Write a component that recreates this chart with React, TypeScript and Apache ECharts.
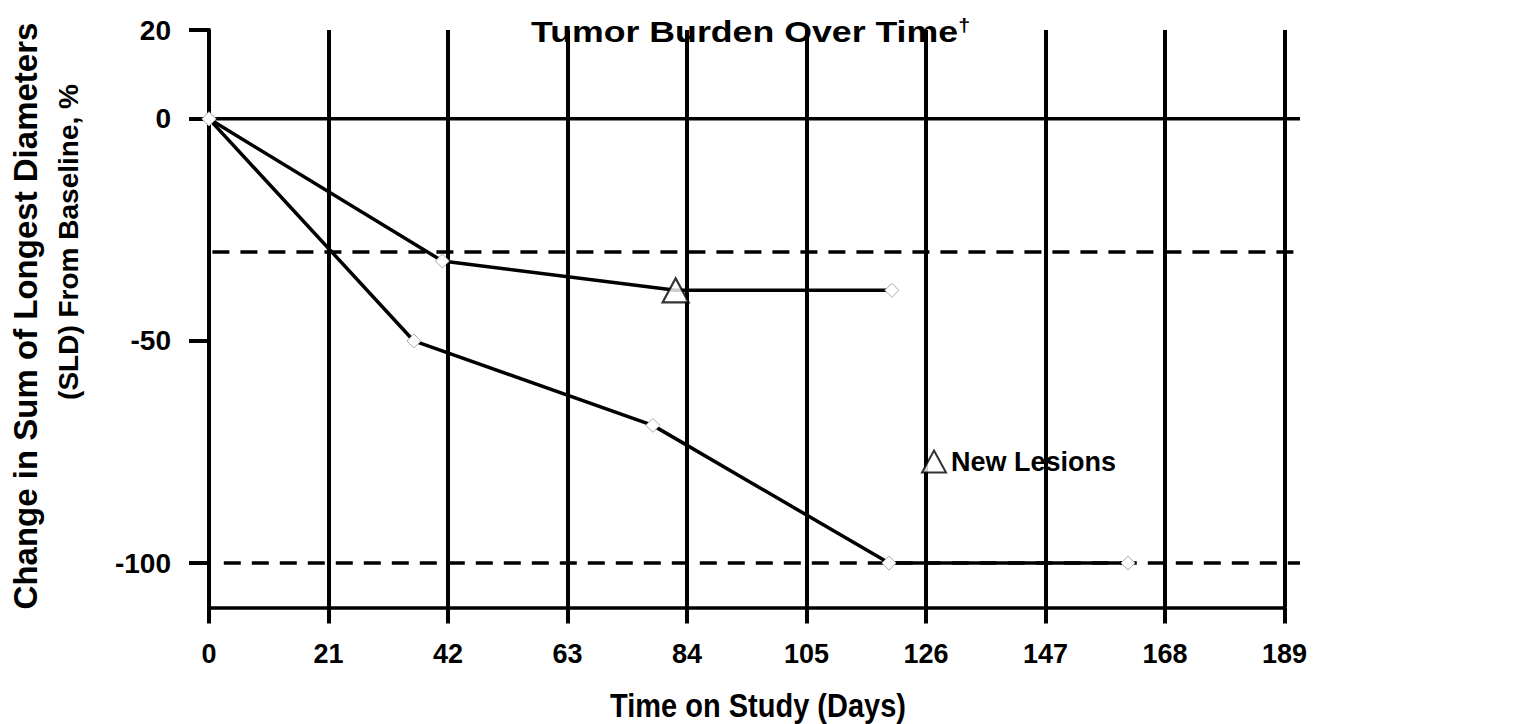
import React, { useEffect, useRef } from "react";
import * as echarts from "echarts";

// ---- data ----
const xTickValues = [0, 21, 42, 63, 84, 105, 126, 147, 168, 189];
const yTickValues = [20, 0, -50, -100];
const patientA = [
  [0, 0],
  [41, -32],
  [82, -38.6],
  [120, -38.6],
];
const patientB = [
  [0, 0],
  [36, -50],
  [78, -69],
  [119.5, -100],
  [161.5, -100],
];
const newLesions = [[82, -38.6]];
const solidRefLevels = [0];
const solidRefStarts = [0];
const dashedRefLevels = [-30, -100];
const dashedRefStarts = [0.6, 2.6];
const refEnd = 191.8;

const FONT_W = "'Liberation Sans', Arial, sans-serif";

export default function App() {
  const ref = useRef<HTMLDivElement>(null);
  useEffect(() => {
    if (!ref.current) return;
    const chart = echarts.init(ref.current, undefined, { renderer: "svg" });

    const refSeries: any[] = [];
    solidRefLevels.forEach((lv, i) =>
      refSeries.push({
        type: "line",
        xAxisIndex: 1,
        yAxisIndex: 1,
        data: [
          [solidRefStarts[i], lv],
          [refEnd, lv],
        ],
        symbol: "none",
        silent: true,
        z: 1,
        lineStyle: { color: "#000", width: 3.5, type: "solid" },
      })
    );
    dashedRefLevels.forEach((lv, i) =>
      refSeries.push({
        type: "line",
        xAxisIndex: 1,
        yAxisIndex: 1,
        data: [
          [dashedRefStarts[i], lv],
          [refEnd, lv],
        ],
        symbol: "none",
        silent: true,
        z: 1,
        lineStyle: { color: "#000", width: 3.5, type: [17, 11] },
      })
    );

    const diamondStyle = { color: "#fff", borderColor: "#aaa", borderWidth: 1 };
    const mkData = (arr: number[][]) =>
      arr.map((p) => {
        const isNew = newLesions.some((q) => q[0] === p[0] && q[1] === p[1]);
        return isNew ? { value: p, symbol: "none" } : { value: p };
      });

    chart.setOption({
      animation: false,
      backgroundColor: "#fff",
      grid: [
        { left: 209, right: 242.5, top: 30, bottom: 116.5, containLabel: false },
        { left: 209, right: 227, top: 30, bottom: 116.5, containLabel: false },
      ],
      legend: {
        data: ["New Lesions"],
        left: 916,
        top: 443,
        itemWidth: 24,
        itemHeight: 22,
        itemGap: 10,
        textStyle: { fontFamily: FONT_W, fontWeight: "bold", fontSize: 27, color: "#000" },
      },
      graphic: [
        {
          type: "text",
          x: 531,
          y: 16,
          scaleX: 1.19,
          z: 10,
          style: {
            text: "Tumor Burden Over Time{sup|†}",
            font: `bold 30px ${FONT_W}`,
            fill: "#000",
            rich: { sup: { fontSize: 18, fontWeight: "bold", fontFamily: FONT_W, verticalAlign: "top", padding: [0, 0, 14, 0] } },
          },
        },
        {
          type: "text",
          x: 25,
          y: 316,
          rotation: Math.PI / 2,
          style: {
            text: "Change in Sum of Longest Diameters",
            font: `bold 33px ${FONT_W}`,
            fill: "#000",
            align: "center",
            verticalAlign: "middle",
          },
        },
        {
          type: "text",
          x: 68,
          y: 242,
          rotation: Math.PI / 2,
          style: {
            text: "(SLD) From Baseline, %",
            font: `bold 28px ${FONT_W}`,
            fill: "#000",
            align: "center",
            verticalAlign: "middle",
          },
        },
        {
          type: "text",
          x: 758,
          y: 706,
          scaleY: 1.15,
          style: {
            text: "Time on Study (Days)",
            font: `bold 29px ${FONT_W}`,
            fill: "#000",
            align: "center",
            verticalAlign: "middle",
          },
        },
      ],
      xAxis: [
        {
          type: "value",
          gridIndex: 0,
          min: 0,
          max: 189,
          interval: 21,
          axisLine: { show: true, onZero: false, lineStyle: { color: "#000", width: 3.5 } },
          axisTick: { show: true, length: 16, lineStyle: { color: "#000", width: 4 } },
          axisLabel: {
            color: "#000",
            fontFamily: FONT_W,
            fontWeight: "bold",
            fontSize: 27,
            margin: 33,
          },
          splitLine: { show: true, lineStyle: { color: "#000", width: 4 } },
        },
        {
          type: "value",
          gridIndex: 1,
          min: 0,
          max: refEnd,
          show: false,
        },
      ],
      yAxis: [
        {
          type: "value",
          gridIndex: 0,
          min: -110,
          max: 20,
          axisLine: { show: true, onZero: false, lineStyle: { color: "#000", width: 4 } },
          axisTick: { show: true, length: 20, lineStyle: { color: "#000", width: 4 }, customValues: yTickValues },
          axisLabel: {
            customValues: yTickValues,
            color: "#000",
            fontFamily: FONT_W,
            fontWeight: "bold",
            fontSize: 28,
            margin: 38,
          },
          splitLine: { show: false },
        },
        {
          type: "value",
          gridIndex: 1,
          min: -110,
          max: 20,
          show: false,
        },
      ],
      series: [
        ...refSeries,
        {
          name: "Patient A",
          type: "line",
          data: mkData(patientA),
          symbol: "diamond",
          symbolSize: 14,
          z: 3,
          itemStyle: diamondStyle,
          lineStyle: { color: "#000", width: 3.5 },
        },
        {
          name: "Patient B",
          type: "line",
          data: mkData(patientB),
          symbol: "diamond",
          symbolSize: 14,
          z: 3,
          itemStyle: diamondStyle,
          lineStyle: { color: "#000", width: 3.5 },
        },
        {
          name: "New Lesions",
          type: "scatter",
          data: newLesions,
          symbol: "triangle",
          symbolSize: [26, 24],
          z: 4,
          itemStyle: { color: "#fff", borderColor: "#000", borderWidth: 2.2 },
        },
      ],
    });
    return () => chart.dispose();
  }, []);
  return <div ref={ref} style={{ width: 1527, height: 724, position: "absolute", left: 0, top: 0 }} />;
}
